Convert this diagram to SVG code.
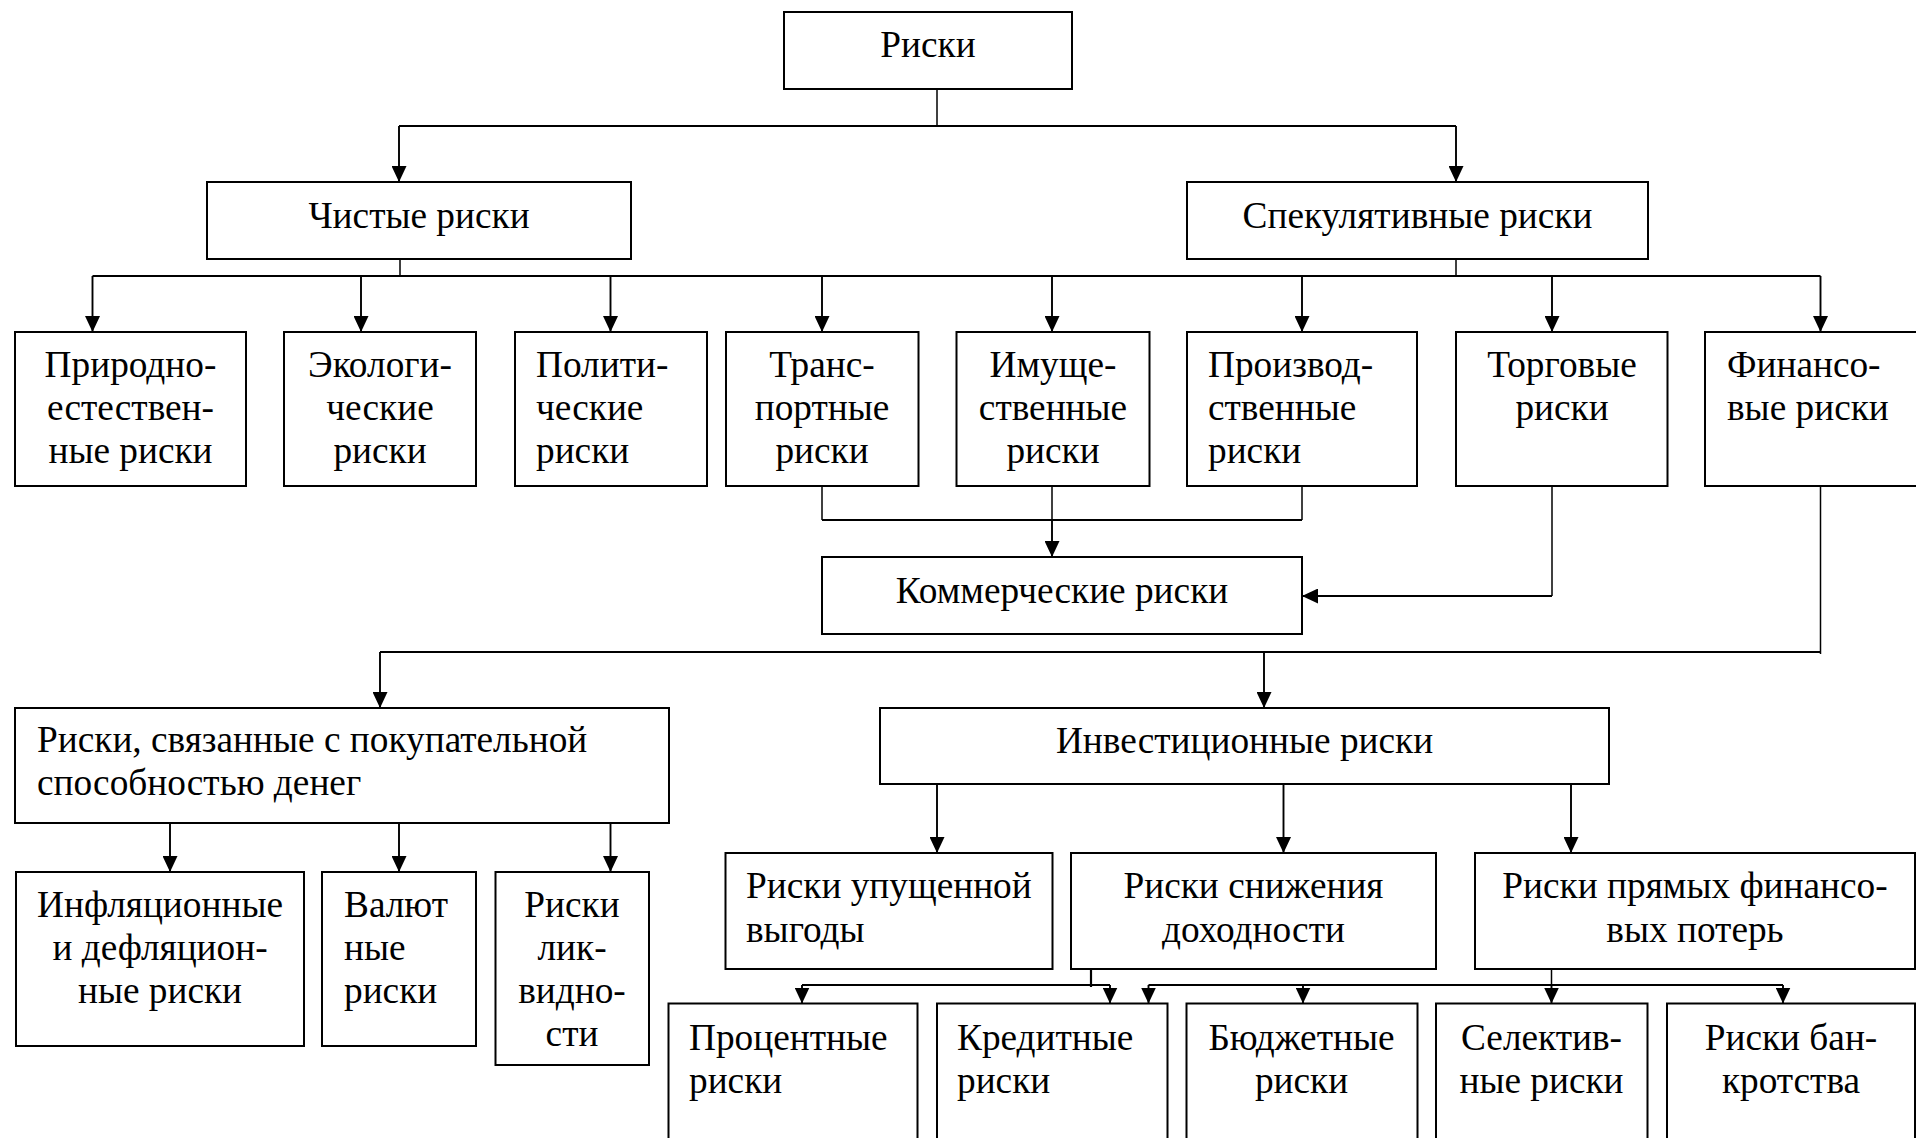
<svg xmlns="http://www.w3.org/2000/svg" width="1916" height="1138" viewBox="0 0 1916 1138">
<style>
.box{fill:#fff;stroke:#000;stroke-width:2}
.t{font-family:"Liberation Serif","Times New Roman",serif;font-size:37.3px;fill:#000}
.c{text-anchor:middle}
.l{text-anchor:start}
.ln{fill:none;stroke:#000;stroke-width:2.2}
.st{fill:none;stroke:#000;stroke-width:1.5}
.ar{fill:none;stroke:#000;stroke-width:1.9;marker-end:url(#ah)}
</style>
<defs>
<marker id="ah" viewBox="0 0 16 15" refX="16" refY="7.5" markerWidth="16" markerHeight="15" orient="auto" markerUnits="userSpaceOnUse"><path d="M0,0 L16,7.5 L0,15 z" fill="#000"/></marker>
</defs>
<rect width="1916" height="1138" fill="#fff"/>
<g id="connectors">
<path class="st" d="M937,89 V126"/>
<path class="ln" d="M399,126 H1456"/>
<path class="ar" d="M399,126 V182"/>
<path class="ar" d="M1456,126 V182"/>
<path class="st" d="M400,259 V276"/>
<path class="st" d="M1456,259 V276"/>
<path class="ln" d="M92.5,276 H1820.5"/>
<path class="ar" d="M92.5,276 V332"/>
<path class="ar" d="M361,276 V332"/>
<path class="ar" d="M610.5,276 V332"/>
<path class="ar" d="M822,276 V332"/>
<path class="ar" d="M1052,276 V332"/>
<path class="ar" d="M1302,276 V332"/>
<path class="ar" d="M1552,276 V332"/>
<path class="ar" d="M1820.5,276 V332"/>
<path class="st" d="M822,484 V520"/>
<path class="st" d="M1302,484 V520"/>
<path class="ln" d="M822,520 H1302"/>
<path class="st" d="M1052,484 V520"/>
<path class="ar" d="M1052,520 V557"/>
<path class="st" d="M1552,484 V596"/>
<path class="ar" d="M1552,596 H1302"/>
<path class="st" d="M1820.5,484 V654"/>
<path class="ln" d="M380,652 H1820.5"/>
<path class="ar" d="M380,652 V708"/>
<path class="ar" d="M1264,652 V708"/>
<path class="ar" d="M170,816 V872"/>
<path class="ar" d="M399,816 V872"/>
<path class="ar" d="M610.5,816 V872"/>
<path class="ar" d="M937,778 V853"/>
<path class="ar" d="M1283.5,778 V853"/>
<path class="ar" d="M1571,778 V853"/>
<path class="ln" d="M1091,966 V987"/>
<path class="ln" d="M802,985 H1110"/>
<path class="ar" d="M802,985 V1003.5"/>
<path class="ar" d="M1110,985 V1003.5"/>
<path class="st" d="M1551.5,966 V985"/>
<path class="ln" d="M1148.5,985 H1783"/>
<path class="ar" d="M1148.5,985 V1003.5"/>
<path class="ar" d="M1303,985 V1003.5"/>
<path class="ar" d="M1551.5,985 V1003.5"/>
<path class="ar" d="M1783,985 V1003.5"/>
</g>
<g id="n-riski"><rect class="box" x="784" y="12" width="288" height="77"/><text class="t c" x="928" y="57">Риски</text></g>
<g id="n-chistye"><rect class="box" x="207" y="182" width="424" height="77"/><text class="t c" x="419" y="228">Чистые риски</text></g>
<g id="n-spek"><rect class="box" x="1187" y="182" width="461" height="77"/><text class="t c" x="1417.5" y="228">Спекулятивные риски</text></g>
<g id="n-prirod"><rect class="box" x="15" y="332" width="231" height="154"/><text class="t c" x="130.5" y="377">Природно-</text><text class="t c" x="130.5" y="420">естествен-</text><text class="t c" x="130.5" y="463">ные риски</text></g>
<g id="n-ekolog"><rect class="box" x="284" y="332" width="192" height="154"/><text class="t c" x="380" y="377">Экологи-</text><text class="t c" x="380" y="420">ческие</text><text class="t c" x="380" y="463">риски</text></g>
<g id="n-polit"><rect class="box" x="515" y="332" width="192" height="154"/><text class="t l" x="536" y="377">Полити-</text><text class="t l" x="536" y="420">ческие</text><text class="t l" x="536" y="463">риски</text></g>
<g id="n-trans"><rect class="box" x="726" y="332" width="192.5" height="154"/><text class="t c" x="822" y="377">Транс-</text><text class="t c" x="822" y="420">портные</text><text class="t c" x="822" y="463">риски</text></g>
<g id="n-imusch"><rect class="box" x="956.5" y="332" width="193" height="154"/><text class="t c" x="1053" y="377">Имуще-</text><text class="t c" x="1053" y="420">ственные</text><text class="t c" x="1053" y="463">риски</text></g>
<g id="n-proizv"><rect class="box" x="1187" y="332" width="230" height="154"/><text class="t l" x="1208" y="377">Производ-</text><text class="t l" x="1208" y="420">ственные</text><text class="t l" x="1208" y="463">риски</text></g>
<g id="n-torg"><rect class="box" x="1456" y="332" width="211.5" height="154"/><text class="t c" x="1562" y="377">Торговые</text><text class="t c" x="1562" y="420">риски</text></g>
<g id="n-finans"><rect class="box" x="1705" y="332" width="213" height="154"/><text class="t l" x="1727" y="377">Финансо-</text><text class="t l" x="1727" y="420">вые риски</text></g>
<g id="n-kommerch"><rect class="box" x="822" y="557" width="480" height="77"/><text class="t c" x="1062" y="603">Коммерческие риски</text></g>
<g id="n-pokup"><rect class="box" x="15" y="708" width="654" height="115"/><text class="t l" x="37" y="752">Риски, связанные с покупательной</text><text class="t l" x="37" y="795">способностью денег</text></g>
<g id="n-invest"><rect class="box" x="880" y="708" width="729" height="76"/><text class="t c" x="1244.5" y="753">Инвестиционные риски</text></g>
<g id="n-infl"><rect class="box" x="16" y="872" width="288" height="174"/><text class="t c" x="160" y="917">Инфляционные</text><text class="t c" x="160" y="960">и дефляцион-</text><text class="t c" x="160" y="1003">ные риски</text></g>
<g id="n-valyut"><rect class="box" x="322" y="872" width="154" height="174"/><text class="t l" x="344" y="917">Валют</text><text class="t l" x="344" y="960">ные</text><text class="t l" x="344" y="1003">риски</text></g>
<g id="n-likvid"><rect class="box" x="495.5" y="872" width="153.5" height="193"/><text class="t c" x="572" y="917">Риски</text><text class="t c" x="572" y="960">лик-</text><text class="t c" x="572" y="1003">видно-</text><text class="t c" x="572" y="1046">сти</text></g>
<g id="n-upusch"><rect class="box" x="725.5" y="853" width="327" height="116"/><text class="t l" x="746" y="898">Риски упущенной</text><text class="t l" x="746" y="942">выгоды</text></g>
<g id="n-snizh"><rect class="box" x="1071" y="853" width="365" height="116"/><text class="t c" x="1253.5" y="898">Риски снижения</text><text class="t c" x="1253.5" y="942">доходности</text></g>
<g id="n-pryam"><rect class="box" x="1475" y="853" width="440" height="116"/><text class="t c" x="1695" y="898">Риски прямых финансо-</text><text class="t c" x="1695" y="942">вых потерь</text></g>
<g id="n-proc"><rect class="box" x="668.5" y="1003.5" width="249" height="150"/><text class="t l" x="689" y="1050">Процентные</text><text class="t l" x="689" y="1093">риски</text></g>
<g id="n-kred"><rect class="box" x="937" y="1003.5" width="230.5" height="150"/><text class="t l" x="957" y="1050">Кредитные</text><text class="t l" x="957" y="1093">риски</text></g>
<g id="n-budzh"><rect class="box" x="1186.5" y="1003.5" width="231" height="150"/><text class="t c" x="1301.5" y="1050">Бюджетные</text><text class="t c" x="1301.5" y="1093">риски</text></g>
<g id="n-selekt"><rect class="box" x="1436" y="1003.5" width="211.5" height="150"/><text class="t c" x="1541.5" y="1050">Селектив-</text><text class="t c" x="1541.5" y="1093">ные риски</text></g>
<g id="n-bankr"><rect class="box" x="1667" y="1003.5" width="248" height="150"/><text class="t c" x="1791" y="1050">Риски бан-</text><text class="t c" x="1791" y="1093">кротства</text></g>
</svg>
